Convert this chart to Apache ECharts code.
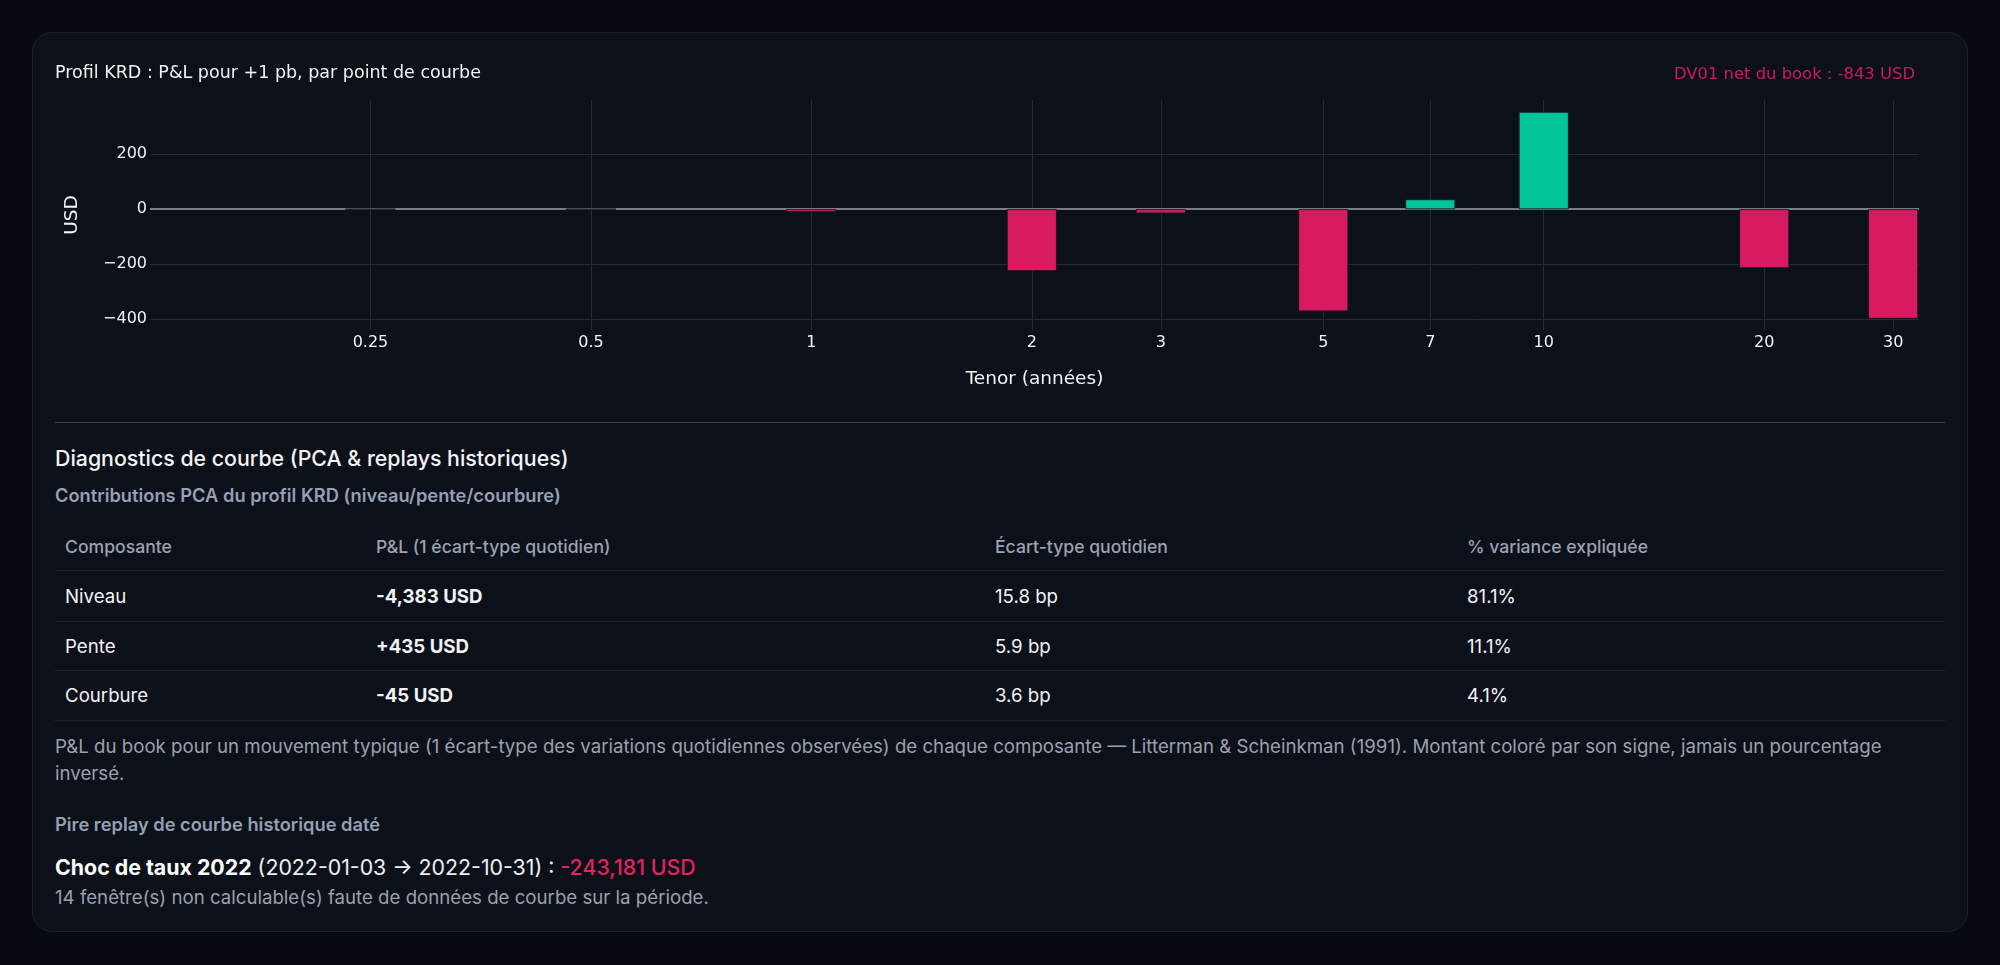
<!DOCTYPE html>
<html lang="fr">
<head>
<meta charset="utf-8">
<title>Profil KRD</title>
<script src="https://cdn.jsdelivr.net/npm/echarts@6/dist/echarts.min.js"></script>
<style>
  html, body { margin: 0; padding: 0; }
  body {
    width: 2000px; height: 965px; overflow: hidden; position: relative;
    background: #070a10; font-family: Inter, "Noto Sans", sans-serif;
  }
  .card {
    position: absolute; left: 32px; top: 32px; width: 1934px; height: 898px;
    background: #0c1018; border: 1px solid #1d222c; border-radius: 20px;
  }
  #chart { position: absolute; left: 0; top: 0; width: 2000px; height: 410px; }
  .sep { position: absolute; left: 55px; top: 422px; width: 1890px; border-top: 1px solid #3d434e; }
  .blk { position: absolute; left: 55px; width: 1890px; }
  .h2 { top: 445px; line-height: 26px; font-size: 21.33px; font-weight: 500; color: #f3f4f6; }
  .sub { top: 484px; line-height: 22px; font-size: 18.3px; font-weight: 600; color: #94a0b4; }
  .tbl { top: 523px; }
  .row { display: flex; align-items: center; border-bottom: 1px solid #1f2530; font-size: 18.67px; color: #f1f3f6; }
  .row.head { color: #9aa3b1; font-weight: 500; font-size: 17.6px; }
  .row > div { padding-left: 10px; box-sizing: border-box; }
  .c1 { width: 311px; } .c2 { width: 619px; } .c3 { width: 472px; } .c4 { width: 488px; }
  .pl { font-weight: 700; }
  .note { top: 733px; line-height: 27px; font-size: 18.67px; color: #9aa1ad; }
  .h3 { top: 813px; line-height: 22px; font-size: 18.3px; font-weight: 600; color: #94a0b4; }
  .shock { top: 853px; line-height: 28px; font-size: 21.33px; color: #eef0f3; }
  .shock b { font-weight: 700; color: #ffffff; }
  .shock .neg { color: #e0245e; font-weight: 500; }
  .miss { top: 886px; line-height: 24px; font-size: 18.67px; color: #9aa1ad; }
</style>
</head>
<body>
<div class="card"></div>
<div id="chart"></div>
<div class="sep"></div>
<div class="blk h2">Diagnostics de courbe (PCA &amp; replays historiques)</div>
<div class="blk sub">Contributions PCA du profil KRD (niveau/pente/courbure)</div>
<div class="blk tbl" id="tbl"></div>
<div class="blk note">P&amp;L du book pour un mouvement typique (1 écart-type des variations quotidiennes observées) de chaque composante — Litterman &amp; Scheinkman (1991). Montant coloré par son signe, jamais un pourcentage inversé.</div>
<div class="blk h3">Pire replay de courbe historique daté</div>
<div class="blk shock"><b>Choc de taux 2022</b> (2022-01-03 → 2022-10-31) : <span class="neg">-243,181 USD</span></div>
<div class="blk miss">14 fenêtre(s) non calculable(s) faute de données de courbe sur la période.</div>

<script>
// profil KRD : P&L pour +1 pb par tenor
var tenors = [0.25, 0.5, 1, 2, 3, 5, 7, 10, 20, 30];
var tickLabels = ['0.25', '0.5', '1', '2', '3', '5', '7', '10', '20', '30'];
var krdValues = [0, 0, -10, -225, -15, -371, 36, 354, -214, -398];
var yTicks = [-400, -200, 0, 200];

// tableau PCA
var pcaHeaders = ['Composante', 'P&L (1 écart-type quotidien)', 'Écart-type quotidien', '% variance expliquée'];
var pcaComponents = ['Niveau', 'Pente', 'Courbure'];
var pcaPnl = ['-4,383 USD', '+435 USD', '-45 USD'];
var pcaStd = ['15.8 bp', '5.9 bp', '3.6 bp'];
var pcaVar = ['81.1%', '11.1%', '4.1%'];

var rowHeights = [47, 50, 48, 49];

(function buildTable() {
  var el = document.getElementById('tbl');
  var html = '<div class="row head" style="height:' + rowHeights[0] + 'px">';
  pcaHeaders.forEach(function(h, i) {
    html += '<div class="c' + (i + 1) + '">' + h.replace('&', '&amp;') + '</div>';
  });
  html += '</div>';
  for (var i = 0; i < pcaComponents.length; i++) {
    html += '<div class="row" style="height:' + rowHeights[i + 1] + 'px">' +
      '<div class="c1">' + pcaComponents[i] + '</div>' +
      '<div class="c2 pl">' + pcaPnl[i] + '</div>' +
      '<div class="c3">' + pcaStd[i] + '</div>' +
      '<div class="c4">' + pcaVar[i] + '</div>' +
      '</div>';
  }
  el.innerHTML = html;
})();

var POS = '#00c49a', NEG = '#d81b60', CARD = '#0c1018';
var logTicks = tenors.map(function(t) { return Math.log10(t); });

function tenorLabel(v) {
  var best = 0;
  for (var i = 1; i < logTicks.length; i++) {
    if (Math.abs(logTicks[i] - v) < Math.abs(logTicks[best] - v)) best = i;
  }
  return tickLabels[best];
}

var chart = echarts.init(document.getElementById('chart'), null, { renderer: 'canvas' });

var option = {
  backgroundColor: 'transparent',
  animation: false,
  textStyle: { fontFamily: 'DejaVu Sans' },
  title: [{
    text: 'Profil KRD : P&L pour +1 pb, par point de courbe',
    left: 55, top: 64, padding: 0,
    textStyle: { color: '#f2f2f2', fontSize: 17.5, fontWeight: 'normal', fontFamily: 'DejaVu Sans' }
  }, {
    text: 'DV01 net du book : -843 USD',
    right: 85, top: 67, padding: 0,
    textStyle: { color: '#c91c5d', fontSize: 16.4, fontWeight: 'normal', fontFamily: 'DejaVu Sans' }
  }],
  grid: { left: 150, right: 81, top: 100, height: 230, containLabel: false },
  xAxis: {
    type: 'value',
    min: Math.log10(0.125), max: 1.5124,
    name: 'Tenor (années)',
    nameLocation: 'middle', nameGap: 40,
    nameTextStyle: { color: '#f2f2f2', fontSize: 18.5, fontFamily: 'DejaVu Sans' },
    axisLine: { show: false },
    axisTick: { show: false, customValues: logTicks },
    axisLabel: {
      customValues: logTicks, margin: 5, color: '#f2f2f2', fontSize: 16,
      fontFamily: 'DejaVu Sans', formatter: tenorLabel
    },
    splitLine: { show: true, lineStyle: { color: '#262b36', width: 1 } }
  },
  yAxis: {
    type: 'value',
    min: -439, max: 397,
    name: 'USD',
    nameLocation: 'middle', nameGap: 68, nameRotate: 90,
    nameTextStyle: { color: '#f2f2f2', fontSize: 18.5, fontFamily: 'DejaVu Sans' },
    axisLine: { show: false },
    axisTick: { show: false, customValues: yTicks },
    axisLabel: {
      customValues: yTicks, margin: 3, color: '#f2f2f2', fontSize: 16,
      fontFamily: 'DejaVu Sans',
      formatter: function(v) { return String(v).replace('-', '\u2212'); }
    },
    splitLine: { show: true, lineStyle: { color: '#262b36', width: 1 } }
  },
  series: [{
    type: 'bar',
    barWidth: 50,
    data: tenors.map(function(t, i) { return [Math.log10(t), krdValues[i]]; }),
    itemStyle: {
      color: function(p) { return p.value[1] >= 0 ? POS : NEG; },
      borderColor: CARD, borderWidth: 0.8
    },
    markLine: {
      silent: true, z: 1,
      symbol: ['none', 'none'],
      label: { show: false },
      lineStyle: { color: '#797d85', width: 2, type: 'solid' },
      data: [{ yAxis: 0 }]
    }
  }]
};

chart.setOption(option);
</script>
</body>
</html>
